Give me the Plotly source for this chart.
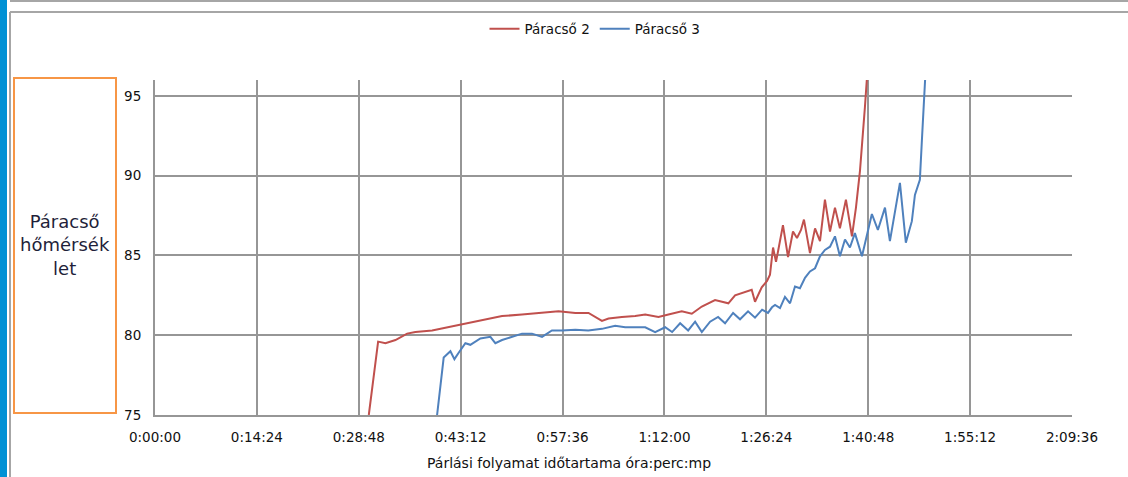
import plotly.graph_objects as go

# ---- data (time in seconds, temperature in °C) ----
tick_seconds = [0, 864, 1728, 2592, 3456, 4320, 5184, 6048, 6912, 7776]
tick_labels = ["0:00:00", "0:14:24", "0:28:48", "0:43:12", "0:57:36",
               "1:12:00", "1:26:24", "1:40:48", "1:55:12", "2:09:36"]
y_ticks = [75, 80, 85, 90, 95]

red_t = [1813, 1892, 1954, 2039, 2138, 2208, 2350, 2488, 2604, 2773, 2943, 3112,
         3282, 3422, 3564, 3676, 3790, 3846, 3959, 4072, 4157, 4269, 4354, 4467,
         4552, 4637, 4749, 4862, 4919, 5004, 5060, 5088, 5145, 5190, 5215, 5241,
         5266, 5283, 5325, 5368, 5410, 5444, 5478, 5503, 5554, 5597, 5639, 5681,
         5724, 5766, 5808, 5859, 5910, 5944, 5978, 6020, 6037, 6050]
red_v = [75.0, 79.6, 79.5, 79.7, 80.1, 80.2, 80.3, 80.5, 80.7, 80.95, 81.2, 81.3,
         81.4, 81.5, 81.4, 81.4, 80.9, 81.05, 81.15, 81.2, 81.3, 81.15, 81.3, 81.5,
         81.35, 81.8, 82.2, 82.0, 82.5, 82.7, 82.85, 82.1, 83.0, 83.4, 83.8, 85.5,
         84.6, 85.25, 86.9, 84.9, 86.5, 86.1, 86.6, 87.25, 85.15, 86.7, 85.9, 88.5,
         86.5, 88.0, 86.7, 88.5, 86.2, 88.0, 90.3, 94.3, 96.0, 97.5]

blue_t = [2392, 2448, 2505, 2539, 2575, 2632, 2674, 2759, 2844, 2886, 2943, 3027,
          3112, 3197, 3282, 3366, 3451, 3564, 3674, 3790, 3902, 3987, 4157, 4241,
          4326, 4385, 4453, 4521, 4580, 4637, 4707, 4775, 4834, 4902, 4961, 5029,
          5088, 5148, 5198, 5232, 5258, 5300, 5342, 5385, 5427, 5469, 5512, 5554,
          5597, 5639, 5681, 5724, 5766, 5808, 5851, 5893, 5935, 5995, 6045, 6079,
          6130, 6190, 6232, 6274, 6317, 6367, 6418, 6444, 6486, 6503, 6528, 6541]
blue_v = [75.0, 78.6, 79.0, 78.5, 78.9, 79.5, 79.4, 79.8, 79.9, 79.5, 79.7, 79.9,
          80.1, 80.1, 79.9, 80.3, 80.3, 80.35, 80.3, 80.4, 80.6, 80.5, 80.5, 80.2,
          80.5, 80.2, 80.75, 80.3, 80.85, 80.2, 80.85, 81.15, 80.75, 81.4, 81.0, 81.5,
          81.1, 81.6, 81.4, 81.75, 81.9, 81.7, 82.4, 82.0, 83.05, 82.95, 83.6, 84.0,
          84.2, 84.95, 85.35, 85.55, 86.2, 84.95, 86.0, 85.5, 86.4, 84.95, 86.5, 87.6,
          86.6, 88.0, 85.9, 87.8, 89.55, 85.8, 87.15, 88.8, 89.75, 92.2, 95.95, 97.5]

series_names = ["Páracső 2", "Páracső 3"]
y_title_lines = ["Páracső", "hőmérsék", "let"]
x_title = "Párlási folyamat időtartama óra:perc:mp"

# ---- layout geometry ----
W, H = 1128, 477
ML, MR, MT, MB = 155, 56, 80, 62
PW, PH = W - ML - MR, H - MT - MB


def px(x):
    return (x - ML) / PW


def py(y):
    return (H - MB - y) / PH


FONT = "DejaVu Sans"
GRID = "#969696"
TXT = "#111111"

fig = go.Figure()
fig.add_trace(go.Scatter(x=red_t, y=red_v, mode="lines", name=series_names[0],
                         line=dict(color="#C0504D", width=2)))
fig.add_trace(go.Scatter(x=blue_t, y=blue_v, mode="lines", name=series_names[1],
                         line=dict(color="#4F81BD", width=2)))

fig.update_layout(
    width=W, height=H,
    margin=dict(l=ML, r=MR, t=MT, b=MB, pad=0),
    paper_bgcolor="white", plot_bgcolor="white",
    font=dict(family=FONT, size=14, color=TXT),
    showlegend=True,
    legend=dict(orientation="h", x=px(595), y=py(29), xanchor="center",
                yanchor="middle", font=dict(size=13.5, color=TXT),
                itemwidth=30, bgcolor="rgba(0,0,0,0)"),
    xaxis=dict(range=[0, 7776], tickvals=tick_seconds, ticktext=tick_labels,
               showgrid=True, gridcolor=GRID, gridwidth=2,
               showline=True, linecolor=GRID, linewidth=2,
               ticks="outside", ticklen=9, tickcolor="rgba(0,0,0,0)",
               tickfont=dict(size=13.5, color=TXT), zeroline=False, fixedrange=True),
    yaxis=dict(range=[75, 96], tickvals=y_ticks,
               showgrid=True, gridcolor=GRID, gridwidth=2,
               showline=True, linecolor=GRID, linewidth=2,
               ticks="outside", ticklen=9, tickcolor="rgba(0,0,0,0)",
               tickfont=dict(size=13.5, color=TXT), zeroline=False, fixedrange=True),
)

shapes = [
    # left blue bar
    dict(type="rect", xref="paper", yref="paper", x0=px(0), x1=px(7),
         y0=py(H), y1=py(0), fillcolor="#0091D5", line=dict(width=0), layer="below"),
    # top panel edge
    dict(type="line", xref="paper", yref="paper", x0=px(11), x1=px(W),
         y0=py(1), y1=py(1), line=dict(color="#A6A6A6", width=2)),
    dict(type="line", xref="paper", yref="paper", x0=px(11), x1=px(11),
         y0=py(0), y1=py(2), line=dict(color="#A6A6A6", width=2)),
    # chart panel border
    dict(type="line", xref="paper", yref="paper", x0=px(10), x1=px(W),
         y0=py(12), y1=py(12), line=dict(color="#A6A6A6", width=2)),
    dict(type="line", xref="paper", yref="paper", x0=px(10), x1=px(10),
         y0=py(12), y1=py(H), line=dict(color="#A6A6A6", width=2)),
    # y-title box
    dict(type="rect", xref="paper", yref="paper", x0=px(14), x1=px(116),
         y0=py(413), y1=py(78), line=dict(color="#F79646", width=2),
         fillcolor="rgba(0,0,0,0)"),
]
fig.update_layout(shapes=shapes)

fig.add_annotation(xref="paper", yref="paper", x=px(65), y=py(245),
                   text="<br>".join(y_title_lines), showarrow=False,
                   xanchor="center", yanchor="middle", align="center",
                   font=dict(family=FONT, size=18, color="#1F1F3A"))
fig.add_annotation(xref="paper", yref="paper", x=px(569), y=py(463),
                   text=x_title, showarrow=False, xanchor="center",
                   yanchor="middle", font=dict(family=FONT, size=14, color=TXT))

fig.write_html("out.html", config={"displayModeBar": False},
               post_script="document.body.style.margin='0px';document.body.style.overflow='hidden';")
